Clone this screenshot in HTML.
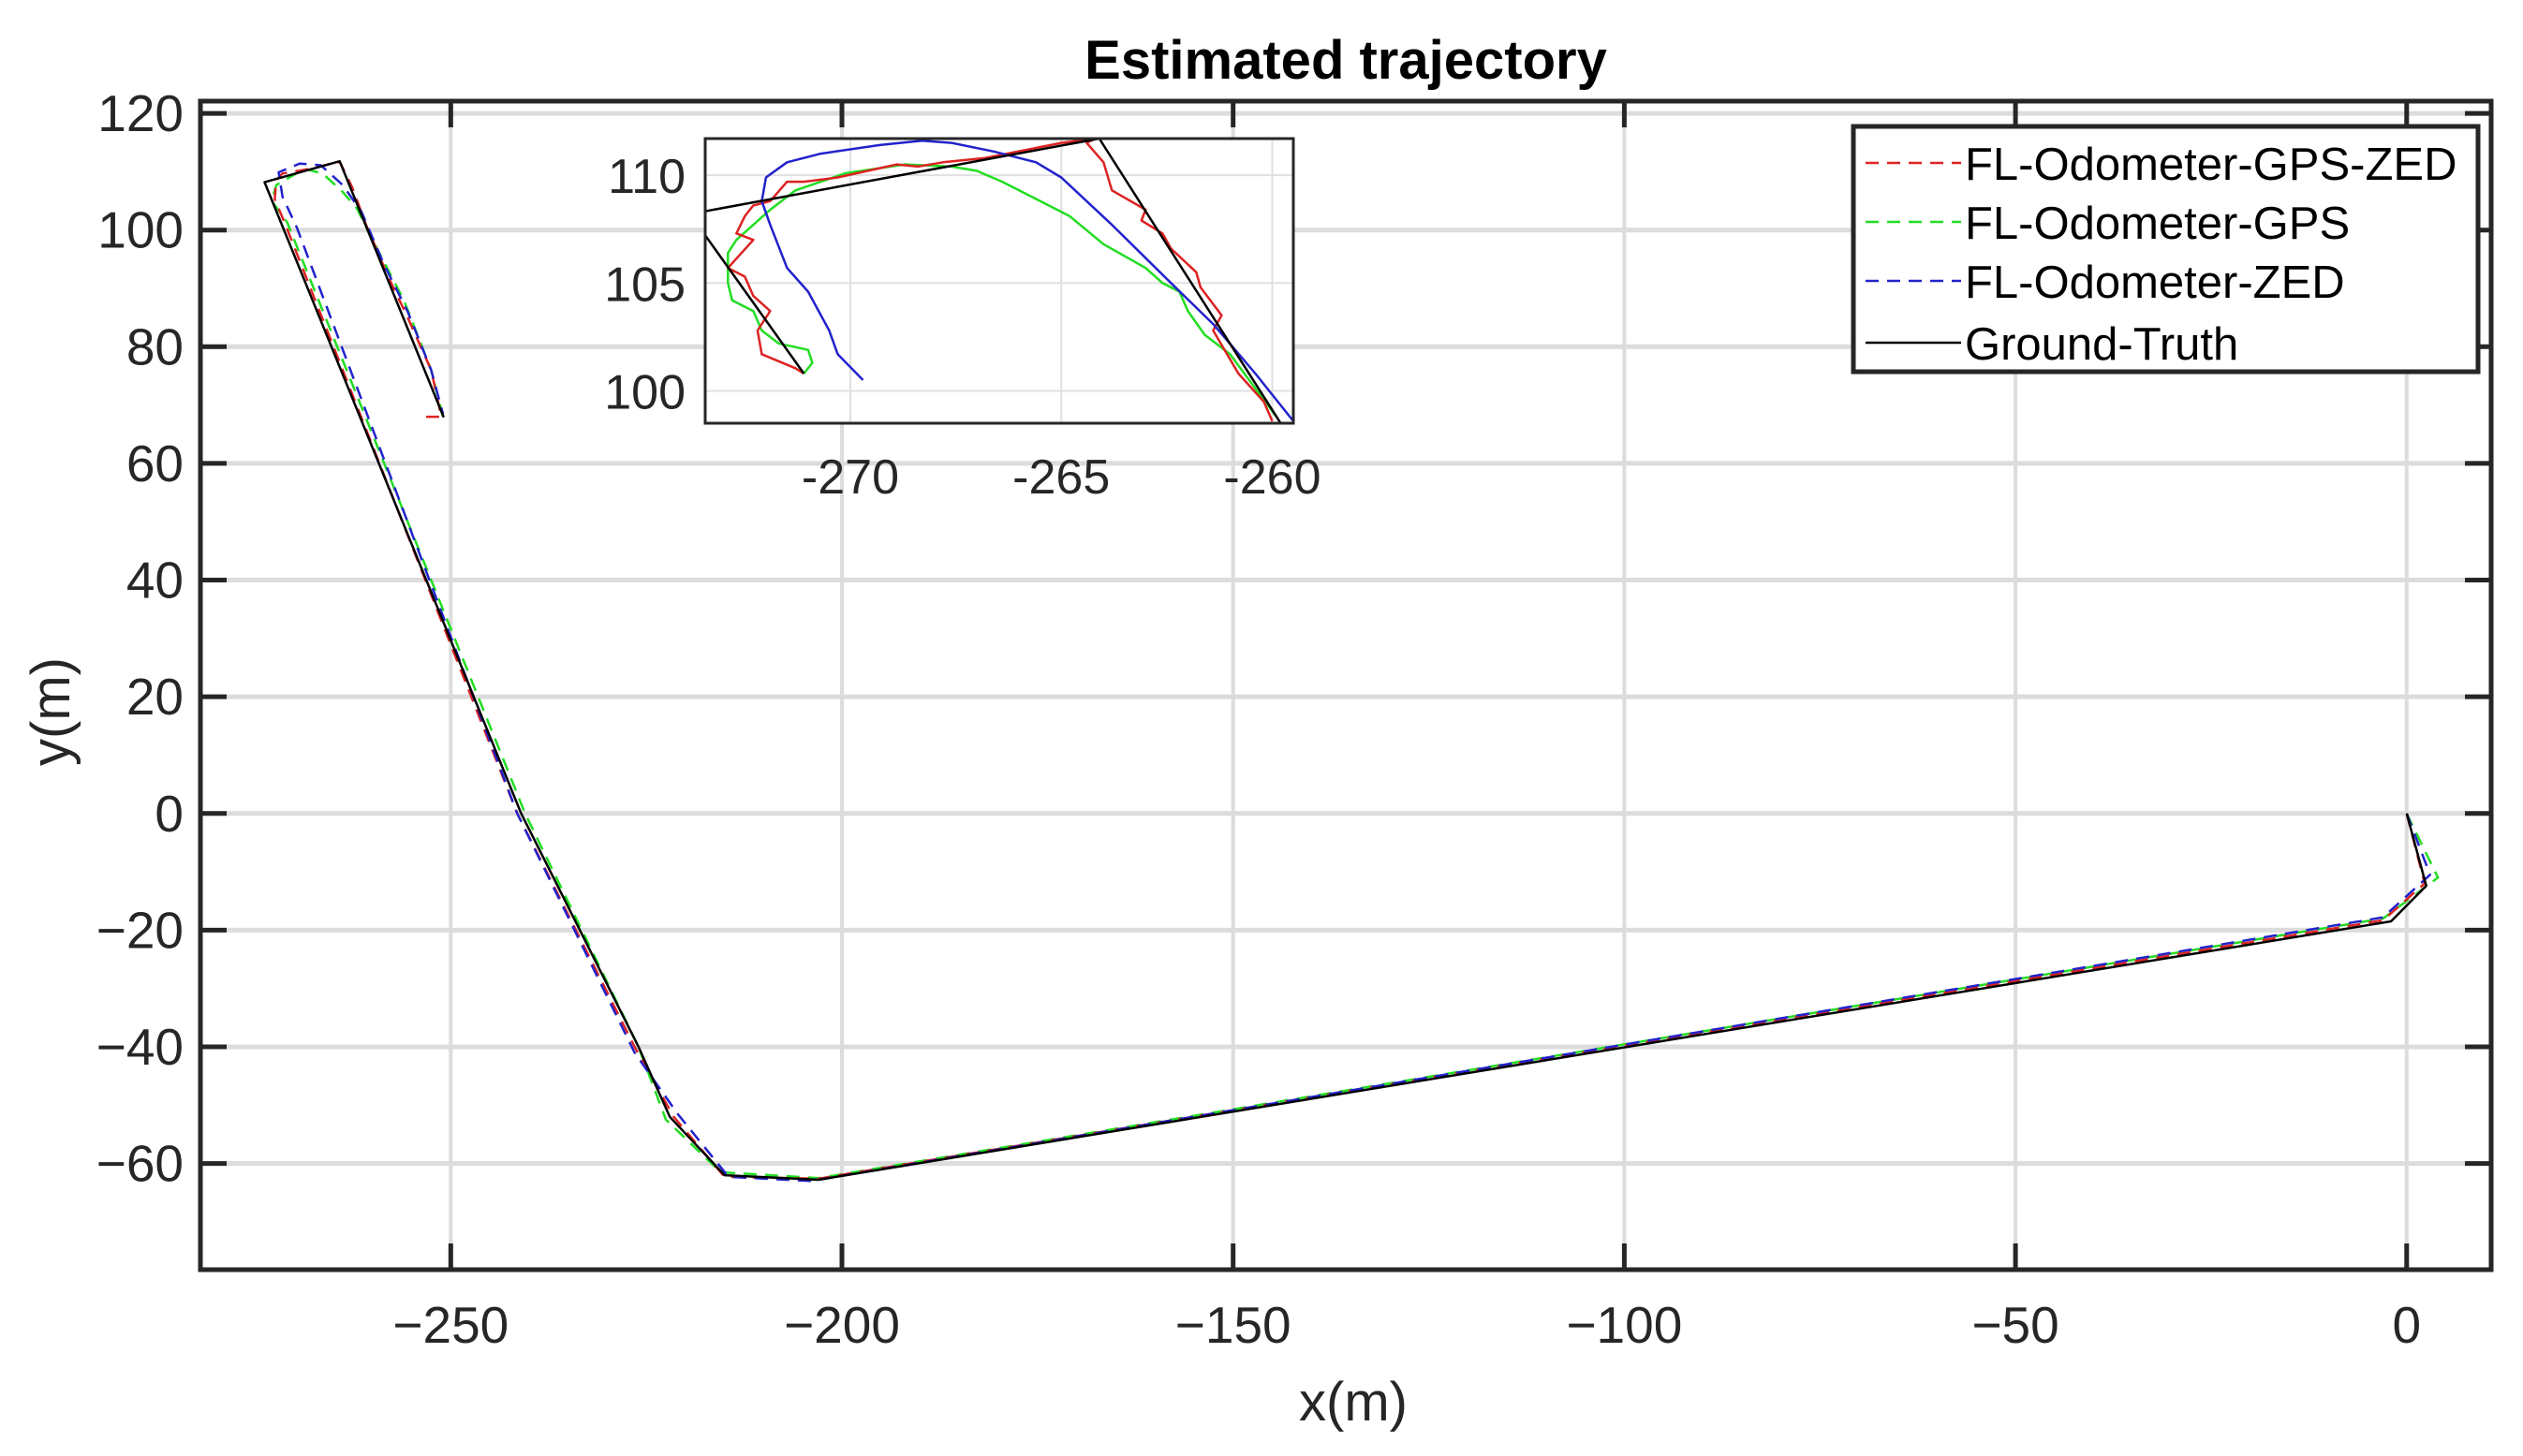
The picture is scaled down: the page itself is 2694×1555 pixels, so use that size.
<!DOCTYPE html>
<html><head><meta charset="utf-8"><style>
html,body{margin:0;padding:0;background:#fff;}
svg text{font-family:"Liberation Sans",Arial,sans-serif;fill:#262626;}
</style></head><body>
<svg id="chart" xmlns="http://www.w3.org/2000/svg" width="2694" height="1550" viewBox="0 0 2694 1550">
<rect width="2694" height="1550" fill="#fff"/>
<g id="main"></g>
<g id="inset"></g>
<g id="legend"></g>
</svg>
<script>
// ---- main chart data ----
const xTicks = [-250, -200, -150, -100, -50, 0];
const yTicks = [-60, -40, -20, 0, 20, 40, 60, 80, 100, 120];
const gtX = [0, 2.5, -2, -203, -215, -222, -226, -241, -273.8, -264.2, -250.9];
const gtY = [0, -12.4, -18.5, -62.8, -62, -52, -40, 0, 108.2, 111.8, 67.9];
const redX = [0, 2.3, -3, -203, -215, -221.5, -226.5, -241.5, -271.1, -272.5, -272.3, -271.5, -268.4, -264.2, -262.6, -260.8, -258, -255.5, -252.5, -251.2, -254];
const redY = [0, -12, -18.3, -62.6, -62.3, -52, -40, 0, 100.8, 105.3, 108.6, 109.7, 110.4, 111.7, 107.3, 100.8, 92, 85, 76, 68, 68];
const greenX = [0, 4, -3, -203, -215.5, -222.5, -226, -240.5, -270.9, -272.9, -272.3, -268.7, -266.4, -264, -262, -259.5, -256, -252.5, -251];
const greenY = [0, -11, -18, -62.5, -61.5, -52.5, -40, 0, 101.3, 105, 107.7, 110.5, 109.7, 106.8, 103.7, 97, 88, 76, 68];
const blueX = [0, 3, -3, -204, -214.5, -221, -226.5, -241.5, -269.7, -271.5, -272, -269.3, -266.6, -263.8, -261.4, -258.5, -255.5, -252.5, -251];
const blueY = [0, -10.5, -17.8, -63, -62.3, -51.5, -41, 0, 100.5, 105.7, 109.9, 111.4, 111.1, 107.7, 103.1, 94, 86, 76, 68.5];
// ---- inset data ----
const inXTicks = [-270, -265, -260];
const inYTicks = [100, 105, 110];
const inGtX = [-271.1, -273.8, -264.1, -259.8];
const inGtY = [100.8, 108.2, 111.7, 98.5];
const inRedX = [-260.0,-260.2,-260.8,-261.4,-261.2,-261.7,-261.8,-262.4,-262.6,-263.1,-263.0,-263.8,-264.0,-264.4,-264.2,-265.0,-266.8,-267.8,-268.4,-268.9,-270.3,-271.1,-271.5,-271.9,-272.3,-272.5,-272.7,-272.3,-272.9,-272.5,-272.3,-271.9,-272.2,-272.1,-271.3,-271.1];
const inRedY = [98.6,99.5,100.8,102.8,103.5,104.8,105.5,106.6,107.3,107.9,108.4,109.3,110.6,111.5,111.7,111.5,110.8,110.6,110.4,110.5,109.9,109.7,109.7,108.8,108.6,108.1,107.3,107.0,105.7,105.3,104.4,103.7,102.8,101.7,101.05,100.8];
const inGreenX = [-259.9,-261.0,-261.6,-262.0,-262.2,-262.6,-263.0,-264.0,-264.8,-265.5,-266.4,-267.0,-267.6,-268.7,-270.1,-271.3,-271.9,-272.3,-272.7,-272.9,-272.9,-272.8,-272.3,-272.1,-271.7,-271.0,-270.9,-271.1];
const inGreenY = [98.8,101.7,102.6,103.7,104.6,105.0,105.7,106.8,108.1,108.8,109.7,110.2,110.4,110.5,110.1,109.3,108.4,107.7,107.0,106.4,105.0,104.2,103.7,102.8,102.2,101.9,101.3,100.8];
const inBlueX = [-259.5,-260.4,-261.4,-262.4,-263.8,-265.0,-265.6,-266.6,-267.6,-268.3,-269.3,-270.7,-271.5,-272.0,-272.1,-271.9,-271.5,-271.0,-270.5,-270.3,-269.7];
const inBlueY = [98.6,100.8,103.1,105.0,107.7,109.9,110.6,111.1,111.5,111.6,111.4,111.0,110.6,109.9,108.8,107.7,105.7,104.6,102.8,101.7,100.5];
const legendLabels = ["FL-Odometer-GPS-ZED", "FL-Odometer-GPS", "FL-Odometer-ZED", "Ground-Truth"];

const NS = "http://www.w3.org/2000/svg";
function mk(parent, tag, attrs, txt) {
  const e = document.createElementNS(NS, tag);
  for (const k in attrs) e.setAttribute(k, attrs[k]);
  if (txt !== undefined) e.textContent = txt;
  parent.appendChild(e);
  return e;
}
function fmt(v) { return v < 0 ? "\u2212" + Math.abs(v) : String(v); }

// main axes
const L = 214, R = 2660, T = 108, B = 1356;
const xmin = -282, xmax = 10.8, ymin = -78.2, ymax = 122.1;
const sx = v => L + (v - xmin) / (xmax - xmin) * (R - L);
const sy = v => B - (v - ymin) / (ymax - ymin) * (B - T);
const main = document.getElementById("main");

xTicks.forEach(t => {
  const g = mk(main, "line", {x1: sx(t), x2: sx(t), y1: T, y2: B, stroke: "#dcdcdc", "stroke-width": 4});
  
  
});
yTicks.forEach(t => {
  const g = mk(main, "line", {x1: L, x2: R, y1: sy(t), y2: sy(t), stroke: "#dcdcdc", "stroke-width": 5});
  
  
});

function poly(parent, xs, ys, fx, fy, color, dash, w, name) {
  const pts = xs.map((x, i) => fx(x).toFixed(1) + "," + fy(ys[i]).toFixed(1)).join(" ");
  const p = mk(parent, "polyline", {points: pts, fill: "none", stroke: color, "stroke-width": w, "stroke-linejoin": "round"});
  if (dash) p.setAttribute("stroke-dasharray", dash);
  
  
}
poly(main, greenX, greenY, sx, sy, "#22dd22", "14 9", 2.5, "series-fl-odometer-gps");
poly(main, redX, redY, sx, sy, "#dd2222", "14 9", 2.5, "series-fl-odometer-gps-zed");
poly(main, blueX, blueY, sx, sy, "#2222cc", "14 9", 2.5, "series-fl-odometer-zed");
poly(main, gtX, gtY, sx, sy, "#000", null, 2.5, "series-ground-truth");

const frame = mk(main, "rect", {x: L, y: T, width: R - L, height: B - T, fill: "none", stroke: "#262626", "stroke-width": 5});



xTicks.forEach(t => {
  mk(main, "line", {x1: sx(t), x2: sx(t), y1: B, y2: B - 28, stroke: "#262626", "stroke-width": 5});
  mk(main, "line", {x1: sx(t), x2: sx(t), y1: T, y2: T + 28, stroke: "#262626", "stroke-width": 5});
  const lb = mk(main, "text", {x: sx(t), y: 1434, "font-size": 55, "text-anchor": "middle"}, fmt(t));
  
  
});
yTicks.forEach(t => {
  mk(main, "line", {x1: L, x2: L + 28, y1: sy(t), y2: sy(t), stroke: "#262626", "stroke-width": 5});
  mk(main, "line", {x1: R, x2: R - 28, y1: sy(t), y2: sy(t), stroke: "#262626", "stroke-width": 5});
  const lb = mk(main, "text", {x: 196, y: sy(t) + 19, "font-size": 55, "text-anchor": "end"}, fmt(t));
  
  
});

const title = mk(main, "text", {x: 1437, y: 84, "font-size": 58, "font-weight": "bold", "text-anchor": "middle", fill: "#000"}, "Estimated trajectory");
title.style.fill = "#000";


const xl = mk(main, "text", {x: 1445, y: 1517, "font-size": 58, "text-anchor": "middle"}, "x(m)");


const yl = mk(main, "text", {x: 0, y: 0, "font-size": 58, "text-anchor": "middle", transform: "translate(74,760) rotate(-90)"}, "y(m)");



// inset
const iL = 753, iR = 1381, iT = 148, iB = 452;
const ixmin = -273.44, ixmax = -259.5, iymin = 98.5, iymax = 111.7;
const ix = v => iL + (v - ixmin) / (ixmax - ixmin) * (iR - iL);
const iy = v => iB - (v - iymin) / (iymax - iymin) * (iB - iT);
const inset = document.getElementById("inset");
mk(inset, "rect", {x: iL, y: iT, width: iR - iL, height: iB - iT, fill: "#fff"});
const defs = mk(inset, "defs", {});
const cp = mk(defs, "clipPath", {id: "inclip"});
mk(cp, "rect", {x: iL, y: iT, width: iR - iL, height: iB - iT});
inXTicks.forEach(t => {
  mk(inset, "line", {x1: ix(t), x2: ix(t), y1: iT, y2: iB, stroke: "#e0e0e0", "stroke-width": 2});
  const lb = mk(inset, "text", {x: ix(t), y: 527, "font-size": 52, "text-anchor": "middle"}, String(t));
  
  
});
inYTicks.forEach(t => {
  mk(inset, "line", {x1: iL, x2: iR, y1: iy(t), y2: iy(t), stroke: "#e0e0e0", "stroke-width": 2});
  const lb = mk(inset, "text", {x: 732, y: iy(t) + 19, "font-size": 52, "text-anchor": "end"}, String(t));
  
  
});
const ig = mk(inset, "g", {"clip-path": "url(#inclip)"});


poly(ig, inGreenX, inGreenY, ix, iy, "#22dd22", null, 2.5, "inset-fl-odometer-gps");
poly(ig, inRedX, inRedY, ix, iy, "#dd2222", null, 2.5, "inset-fl-odometer-gps-zed");
poly(ig, inBlueX, inBlueY, ix, iy, "#2222cc", null, 2.5, "inset-fl-odometer-zed");
poly(ig, inGtX, inGtY, ix, iy, "#000", null, 2.5, "inset-ground-truth");
const iframe = mk(inset, "rect", {x: iL, y: iT, width: iR - iL, height: iB - iT, fill: "none", stroke: "#262626", "stroke-width": 3});



// legend
const lg = document.getElementById("legend");


mk(lg, "rect", {x: 1979, y: 135, width: 667, height: 262, fill: "#fff", stroke: "#262626", "stroke-width": 5});
const colors = ["#dd2222", "#22dd22", "#2222cc", "#000"];
const dashes = ["14 9", "14 9", "14 9", null];
const ly = [174, 237, 300, 366];
legendLabels.forEach((lab, i) => {
  const ln = mk(lg, "line", {x1: 1992, x2: 2094, y1: ly[i], y2: ly[i], stroke: colors[i], "stroke-width": 2.5});
  if (dashes[i]) ln.setAttribute("stroke-dasharray", dashes[i]);
  
  
  const tx = mk(lg, "text", {x: 2098, y: ly[i] + 18, "font-size": 49}, lab);
  tx.style.fill = "#000";
  
  
});
</script>
</body></html>
